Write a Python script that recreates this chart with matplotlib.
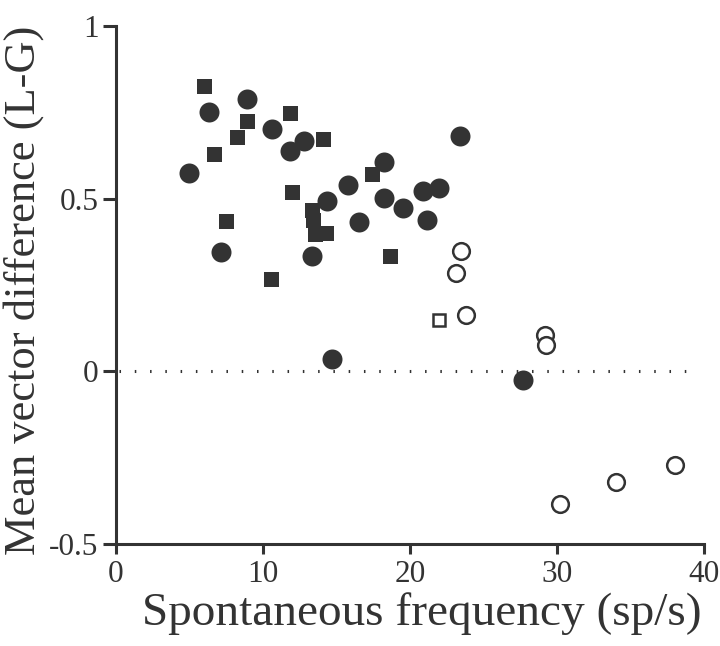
import matplotlib.pyplot as plt

# filled squares
sq_x = [6.0, 8.9, 8.2, 6.65, 11.85, 14.1, 12.0, 7.5, 10.55, 13.3, 13.4, 13.55, 14.3, 17.4, 18.65]
sq_y = [0.825, 0.724, 0.678, 0.628, 0.748, 0.672, 0.519, 0.434, 0.266, 0.466, 0.437, 0.398, 0.400, 0.572, 0.333]

# filled circles
ci_x = [6.33, 8.89, 10.6, 11.82, 12.8, 4.97, 7.12, 13.33, 14.33, 15.8, 23.38, 18.25,
        18.25, 19.54, 20.9, 21.99, 21.16, 16.55, 14.69, 27.71]
ci_y = [0.749, 0.787, 0.700, 0.638, 0.666, 0.573, 0.346, 0.335, 0.493, 0.540, 0.680, 0.606,
        0.503, 0.474, 0.522, 0.532, 0.437, 0.433, 0.035, -0.024]

# open circles
oc_x = [23.47, 23.11, 23.79, 29.18, 29.25, 30.2, 34.0, 38.03]
oc_y = [0.348, 0.284, 0.164, 0.106, 0.077, -0.384, -0.319, -0.271]

# open square
os_x = [21.97]
os_y = [0.149]

col = "#333333"
plt.rcParams['font.family'] = ['Liberation Serif', 'DejaVu Serif']

fig = plt.figure(figsize=(7.2, 6.46), dpi=100)
ax = fig.add_axes([0.161, 0.1574, 0.817, 0.8028])

# zero reference line
ax.plot([0.2, 39.5], [0, 0], color=col, linewidth=2.2, linestyle=(0, (0.5, 4.5)),
        dash_capstyle='butt', zorder=1)

ax.plot(sq_x, sq_y, 's', color=col, markersize=10.8, markeredgewidth=0, zorder=3)
ax.plot(ci_x, ci_y, 'o', color=col, markersize=14.4, markeredgewidth=0, zorder=3)
ax.plot(oc_x, oc_y, 'o', markerfacecolor='white', markeredgecolor=col,
        markersize=12, markeredgewidth=1.8, zorder=3)
ax.plot(os_x, os_y, 's', markerfacecolor='white', markeredgecolor=col,
        markersize=9.2, markeredgewidth=1.8, zorder=3)

ax.set_xlim(0, 40)
ax.set_ylim(-0.5, 1)
ax.set_xticks([0, 10, 20, 30, 40])
ax.set_xticklabels(["0", "10", "20", "30", "40"])
ax.set_yticks([-0.5, 0, 0.5, 1])
ax.set_yticklabels(["-0.5", "0", "0.5", "1"])

for s in ["top", "right"]:
    ax.spines[s].set_visible(False)
for s in ["left", "bottom"]:
    ax.spines[s].set_linewidth(2.2)
    ax.spines[s].set_color(col)
    ax.spines[s].set_capstyle('projecting')

ax.tick_params(axis='y', direction='out', length=9.5, width=2.2, color=col,
               labelsize=22.5, labelcolor=col, pad=3)
ax.tick_params(axis='x', direction='out', length=7.5, width=2.2, color=col,
               labelsize=22.5, labelcolor=col, pad=4)

ax.set_xlabel("Spontaneous frequency (sp/s)", fontsize=34, color=col)
ax.set_ylabel("Mean vector difference (L-G)", fontsize=32, color=col)
ax.xaxis.set_label_coords(0.52, -0.092, transform=ax.transAxes)
ax.xaxis.label.set_va('top')
ax.yaxis.set_label_coords(-0.122, 0.49, transform=ax.transAxes)

fig.savefig("out.png", dpi=100)
